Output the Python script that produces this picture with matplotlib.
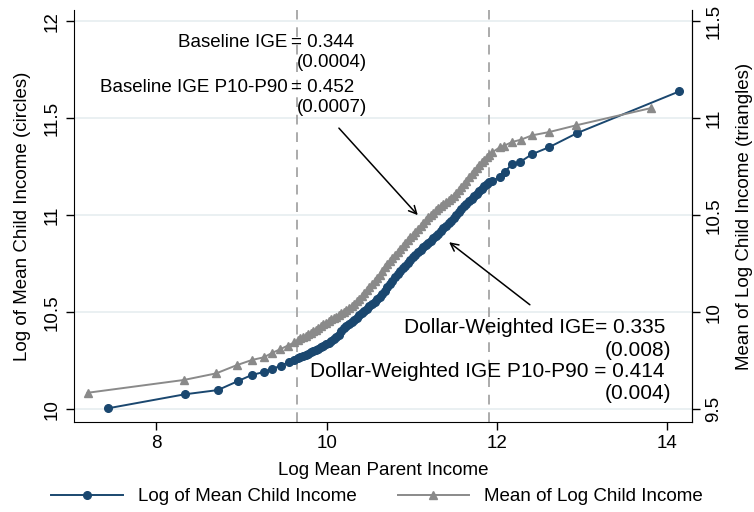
import matplotlib.pyplot as plt

plt.rcParams["font.family"] = ["Liberation Sans", "DejaVu Sans"]

# circles: log of mean child income (left axis)
parent_circ = [7.43, 8.33, 8.72, 8.96, 9.12, 9.26, 9.36, 9.46, 9.55, 9.62,
               9.66, 9.69, 9.72, 9.75, 9.78, 9.81, 9.84, 9.87, 9.90, 9.93,
               9.96, 9.99, 10.02, 10.05, 10.08, 10.11, 10.14, 10.17, 10.20, 10.23,
               10.26, 10.29, 10.32, 10.35, 10.38, 10.41, 10.44, 10.47, 10.50, 10.53,
               10.56, 10.59, 10.62, 10.65, 10.68, 10.71, 10.74, 10.77, 10.80, 10.83,
               10.86, 10.89, 10.92, 10.95, 10.98, 11.01, 11.04, 11.07, 11.10, 11.13,
               11.16, 11.19, 11.22, 11.25, 11.28, 11.31, 11.34, 11.37, 11.40, 11.43,
               11.46, 11.49, 11.52, 11.55, 11.58, 11.61, 11.64, 11.67, 11.70, 11.73,
               11.76, 11.79, 11.82, 11.85, 11.88, 11.91, 11.94,
               12.03, 12.09, 12.17, 12.27, 12.41, 12.61, 12.94, 14.14]
child_logmean = [10.005, 10.077, 10.099, 10.146, 10.177, 10.192, 10.208, 10.225, 10.242, 10.254,
                 10.262, 10.268, 10.274, 10.280, 10.287, 10.293, 10.300, 10.306, 10.313, 10.320,
                 10.327, 10.335, 10.343, 10.352, 10.362, 10.373, 10.385, 10.401, 10.417, 10.429,
                 10.440, 10.450, 10.461, 10.472, 10.484, 10.495, 10.507, 10.518, 10.530, 10.541,
                 10.553, 10.566, 10.579, 10.595, 10.612, 10.628, 10.644, 10.663, 10.681, 10.696,
                 10.711, 10.726, 10.741, 10.755, 10.769, 10.783, 10.796, 10.809, 10.822, 10.835,
                 10.847, 10.859, 10.870, 10.881, 10.893, 10.906, 10.919, 10.932, 10.946, 10.959,
                 10.973, 10.988, 11.003, 11.018, 11.033, 11.047, 11.060, 11.073, 11.086, 11.099,
                 11.112, 11.125, 11.137, 11.149, 11.160, 11.170, 11.178,
                 11.196, 11.223, 11.263, 11.275, 11.315, 11.351, 11.424, 11.639]

# triangles: mean of log child income (right axis)
parent_tri = [7.19, 8.32, 8.70, 8.94, 9.12, 9.26, 9.36, 9.45, 9.54, 9.62,
              9.66, 9.69, 9.72, 9.75, 9.78, 9.81, 9.84, 9.87, 9.90, 9.93,
              9.96, 9.99, 10.02, 10.05, 10.08, 10.11, 10.14, 10.17, 10.20, 10.23,
              10.26, 10.29, 10.32, 10.35, 10.38, 10.41, 10.44, 10.47, 10.50, 10.53,
              10.56, 10.59, 10.62, 10.65, 10.68, 10.71, 10.74, 10.77, 10.80, 10.83,
              10.86, 10.89, 10.92, 10.95, 10.98, 11.01, 11.04, 11.07, 11.10, 11.13,
              11.16, 11.19, 11.22, 11.25, 11.28, 11.31, 11.34, 11.37, 11.40, 11.43,
              11.46, 11.49, 11.52, 11.55, 11.58, 11.61, 11.64, 11.67, 11.70, 11.73,
              11.76, 11.79, 11.82, 11.85, 11.88, 11.91, 11.94,
              12.03, 12.08, 12.17, 12.28, 12.41, 12.61, 12.93, 13.81]
child_meanlog = [9.585, 9.651, 9.685, 9.727, 9.754, 9.768, 9.791, 9.809, 9.828, 9.845,
                 9.858, 9.865, 9.872, 9.879, 9.886, 9.894, 9.902, 9.911, 9.920, 9.929,
                 9.938, 9.947, 9.955, 9.963, 9.970, 9.978, 9.985, 9.994, 10.003, 10.013,
                 10.023, 10.034, 10.045, 10.057, 10.070, 10.084, 10.098, 10.113, 10.128, 10.144,
                 10.160, 10.176, 10.192, 10.212, 10.232, 10.249, 10.265, 10.281, 10.297, 10.312,
                 10.327, 10.342, 10.357, 10.372, 10.386, 10.400, 10.415, 10.430, 10.445, 10.460,
                 10.475, 10.489, 10.503, 10.514, 10.525, 10.535, 10.546, 10.557, 10.568, 10.579,
                 10.590, 10.602, 10.615, 10.630, 10.645, 10.661, 10.678, 10.695, 10.712, 10.729,
                 10.746, 10.760, 10.774, 10.787, 10.800, 10.812, 10.824,
                 10.850, 10.858, 10.877, 10.890, 10.912, 10.929, 10.964, 11.053]

p10, p90 = 9.65, 11.90

navy = "#1a476f"
gray = "#8a8a8a"

fig, ax = plt.subplots(figsize=(7.54, 5.12), dpi=100)
fig.subplots_adjust(left=0.098, right=0.918, top=0.98, bottom=0.176)
ax2 = ax.twinx()

ax.axvline(p10, color="#ababab", ls=(0, (5, 4)), lw=1.4, zorder=1)
ax.axvline(p90, color="#ababab", ls=(0, (5, 4)), lw=1.4, zorder=1)

l1, = ax.plot(parent_circ, child_logmean, color=navy, marker="o", ms=5.5,
              lw=1.4, zorder=3, label="Log of Mean Child Income")
l2, = ax2.plot(parent_tri, child_meanlog, color=gray, marker="^", ms=6,
               lw=1.4, zorder=3, label="Mean of Log Child Income")

ax.set_xlim(7.03, 14.29)
ax.set_ylim(9.935, 12.057)
ax2.set_ylim(9.435, 11.557)

ax.set_xticks([8, 10, 12, 14])
ax.set_yticks([10, 10.5, 11, 11.5, 12])
ax.set_yticklabels(["10", "10.5", "11", "11.5", "12"], rotation=90, va="center")
ax2.set_yticks([9.5, 10, 10.5, 11, 11.5])
ax2.set_yticklabels(["9.5", "10", "10.5", "11", "11.5"], rotation=90, va="center")

ax.grid(axis="y", color="#e6eef0", lw=1.2)
ax.set_axisbelow(True)

for a in (ax, ax2):
    a.spines["top"].set_visible(False)
    a.tick_params(labelsize=13.5, length=6, width=1)
ax2.spines["left"].set_visible(False)
ax2.spines["bottom"].set_visible(False)

ax.set_xlabel("Log Mean Parent Income", fontsize=13.5, labelpad=7)
ax.set_ylabel("Log of Mean Child Income (circles)", fontsize=13.5, labelpad=9)
ax2.set_ylabel("Mean of Log Child Income (triangles)", fontsize=13.5, labelpad=10)

fs = 13.5
ax.text(9.54, 11.891, "Baseline IGE", ha="right", va="center", fontsize=fs)
ax.text(9.575, 11.891, "= 0.344", ha="left", va="center", fontsize=fs)
ax.text(9.65, 11.788, "(0.0004)", ha="left", va="center", fontsize=fs)
ax.text(9.54, 11.660, "Baseline IGE P10-P90", ha="right", va="center", fontsize=fs)
ax.text(9.575, 11.660, "= 0.452", ha="left", va="center", fontsize=fs)
ax.text(9.65, 11.557, "(0.0007)", ha="left", va="center", fontsize=fs)

fs2 = 15
ax.text(13.97, 10.42, "Dollar-Weighted IGE= 0.335", ha="right", va="center", fontsize=fs2)
ax.text(14.05, 10.305, "(0.008)", ha="right", va="center", fontsize=fs2)
ax.text(13.97, 10.195, "Dollar-Weighted IGE P10-P90 = 0.414", ha="right", va="center", fontsize=fs2)
ax.text(14.05, 10.08, "(0.004)", ha="right", va="center", fontsize=fs2)

ax.annotate("", xy=(11.09, 10.99), xytext=(10.12, 11.46),
            arrowprops=dict(arrowstyle="->", color="black", lw=1.1, mutation_scale=14), zorder=5)
ax.annotate("", xy=(11.41, 10.87), xytext=(12.41, 10.53),
            arrowprops=dict(arrowstyle="->", color="black", lw=1.1, mutation_scale=14), zorder=5)

fig.legend(handles=[l1, l2], loc="center", bbox_to_anchor=(0.5, 0.03), ncol=2,
           frameon=False, fontsize=13.5, handlelength=3.8, columnspacing=2.2)

plt.savefig("out.png", dpi=100)
